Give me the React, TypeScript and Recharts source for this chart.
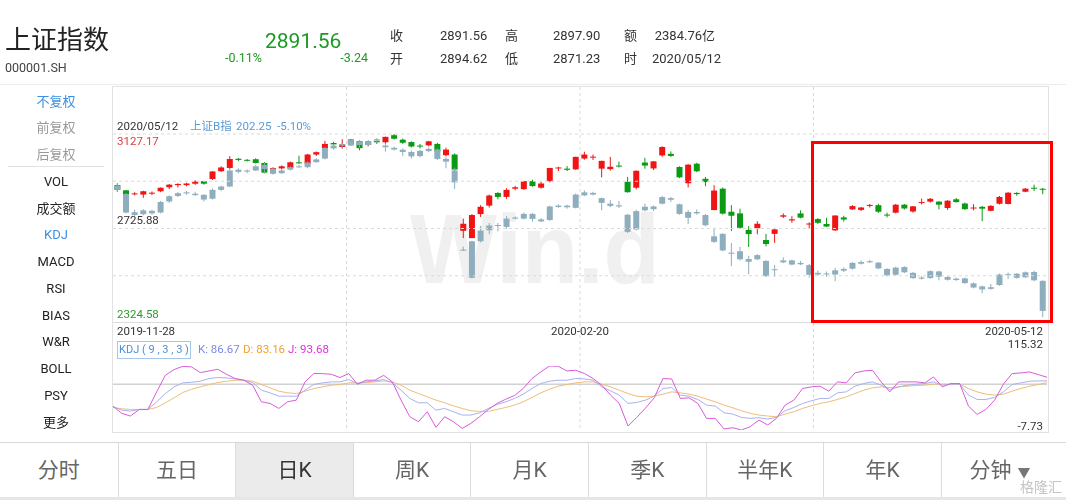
import React from 'react';
import { ComposedChart, Bar, Line, XAxis, YAxis, CartesianGrid, ReferenceLine } from 'recharts';

// 上证指数 日K (2019-11-28 ~ 2020-05-12)
const mainOpen = [2910, 2888, 2871, 2870, 2876, 2884, 2901, 2910, 2910, 2916, 2927, 2936, 2969, 2983, 3022, 3017.5, 3020, 3004, 2964, 2981, 2983, 3007, 3000, 3040, 3066, 3089, 3072, 3085, 3097, 3081, 3097, 3092, 3122, 3103, 3093, 3078, 3079, 3085, 3037, 3040, 2716, 2685, 2787, 2823, 2877, 2860, 2895, 2893, 2927, 2899, 2927, 2983, 2980, 2977, 3023, 3030, 2980, 2978, 2993, 2924, 2899, 3006, 2981, 3036, 3043, 2987, 2918, 3001, 2937, 2804, 2895, 2797, 2790, 2720, 2727, 2677, 2703, 2776, 2760, 2790, 2745, 2766, 2745, 2718, 2773, 2807, 2805, 2823, 2825, 2785, 2793, 2827, 2798, 2836, 2840, 2840, 2813, 2850, 2832, 2812, 2818, 2801, 2831, 2830, 2877, 2882, 2899, 2894.62];
const mainHigh = [2918, 2890, 2880, 2886, 2883, 2900, 2915, 2918, 2920, 2931, 2928, 2970, 2990, 3033, 3025, 3021, 3024, 3008, 2986, 2994, 3010, 3035, 3043, 3053, 3098, 3094, 3105, 3106, 3097, 3097, 3101, 3116, 3127, 3108, 3096, 3085, 3098, 3090, 3069, 3045, 2768, 2787, 2825, 2870, 2880, 2897, 2907, 2928, 2933, 2925, 2983, 2988, 2991, 3031, 3052, 3040, 3014, 3030, 3010, 2945, 2972, 3026, 3012, 3075, 3053, 2990, 3000, 3005, 2945, 2910, 2900, 2825, 2810, 2736, 2757, 2703, 2725, 2790, 2778, 2803, 2752, 2770, 2771, 2782, 2780, 2825, 2817, 2830, 2831, 2793, 2830, 2830, 2821, 2853, 2855, 2842, 2846, 2855, 2836, 2829, 2822, 2825, 2864, 2880, 2880, 2898, 2912, 2897.9];
const mainLow = [2881, 2868, 2866, 2856, 2868, 2880, 2893, 2900, 2905, 2911, 2912, 2932, 2965, 2978, 3012, 3010, 3002, 2960, 2960, 2978, 2980, 3000, 2995, 3034, 3060, 3074, 3065, 3081, 3058, 3075, 3085, 3084, 3104, 3085, 3070, 3066, 3075, 3050, 3032, 2968, 2685, 2685, 2775, 2815, 2850, 2852, 2888, 2890, 2903, 2895, 2922, 2970, 2970, 2975, 3018, 3017, 2943, 2972, 2985, 2878, 2892, 2980, 2974, 3030, 3030, 2940, 2900, 2965, 2905, 2804, 2785, 2715, 2725, 2647, 2701, 2650, 2665, 2770, 2750, 2769, 2725, 2745, 2732, 2715, 2755, 2805, 2800, 2815, 2792, 2773, 2790, 2806, 2793, 2828, 2836, 2807, 2805, 2836, 2805, 2803, 2757, 2799, 2828, 2828, 2865, 2880, 2885, 2871.23];
const mainClose = [2890, 2872, 2875, 2884, 2878, 2899, 2912, 2915, 2917, 2925, 2916, 2968, 2985, 3021, 3017, 3017, 3004, 2963, 2982, 2990, 3007, 3003, 3040, 3050, 3085, 3083, 3083, 3104, 3067, 3095, 3092, 3115, 3107, 3090, 3074, 3075, 3096, 3052, 3061, 2976, 2746, 2783, 2818, 2866, 2860, 2890, 2901, 2927, 2906, 2917, 2983, 2985, 2975, 3030, 3040, 3031, 3013, 2988, 2991, 2880, 2971, 2993, 3011, 3072, 3034, 2943, 2997, 2969, 2923, 2887, 2789, 2780, 2729, 2702, 2746, 2660, 2722, 2782, 2765, 2772, 2747, 2750, 2734, 2781, 2764, 2821, 2815, 2826, 2797, 2783, 2827, 2811, 2820, 2838, 2852, 2827, 2844, 2838, 2808, 2815, 2810, 2822, 2860, 2878, 2872, 2895, 2895, 2891.56];

// 上证B指 (叠加对比)
const bOpen = [247.5, 244.5, 236.9, 237.2, 238.4, 237.8, 241.8, 243.8, 244.7, 244.6, 244.2, 242.8, 246.0, 247.2, 252.5, 253.0, 253.0, 255.0, 253.6, 252.0, 253.3, 254.2, 254.2, 256.0, 257.3, 261.0, 262.0, 262.0, 263.5, 262.2, 263.8, 262.0, 261.2, 260.5, 259.7, 258.2, 260.0, 260.6, 257.2, 253.0, 224.0, 214.2, 227.4, 231.4, 233.3, 232.6, 235.6, 235.6, 237.3, 235.3, 235.1, 239.8, 240.3, 239.5, 244.0, 244.9, 243.0, 241.0, 240.0, 237.0, 231.7, 238.6, 239.0, 241.0, 243.0, 240.8, 235.9, 238.0, 236.9, 227.2, 230.1, 223.3, 223.8, 221.0, 220.9, 220.3, 217.0, 219.8, 220.5, 219.6, 218.8, 216.0, 215.5, 215.4, 216.8, 217.5, 219.3, 219.8, 219.7, 217.4, 215.3, 216.2, 216.0, 214.3, 214.1, 216.5, 214.5, 213.4, 214.0, 212.2, 211.1, 210.2, 211.6, 215.3, 215.7, 214.4, 216.3, 213.1];
const bHigh = [248.3, 244.8, 238.8, 239.0, 238.8, 242.0, 244.0, 245.2, 245.6, 245.3, 244.4, 246.5, 247.5, 253.8, 253.8, 253.4, 255.0, 255.7, 254.0, 253.6, 254.5, 255.0, 256.2, 257.5, 261.5, 262.5, 263.0, 264.3, 264.0, 264.0, 264.7, 262.8, 261.6, 261.0, 260.2, 260.5, 261.4, 261.0, 257.8, 254.0, 225.5, 227.6, 233.0, 234.0, 234.0, 236.5, 236.4, 237.8, 237.6, 235.8, 240.3, 240.8, 240.6, 244.7, 245.8, 245.3, 243.2, 242.3, 242.0, 237.3, 238.8, 241.0, 240.3, 243.8, 243.5, 241.0, 238.7, 238.9, 237.3, 232.3, 230.3, 226.8, 225.4, 222.2, 222.8, 220.6, 218.8, 221.6, 220.8, 220.3, 219.2, 216.8, 216.5, 217.8, 218.0, 219.9, 220.5, 220.7, 219.9, 217.7, 218.2, 218.4, 216.3, 214.8, 216.9, 216.8, 214.8, 214.3, 214.3, 212.5, 211.4, 212.0, 215.7, 216.1, 215.9, 216.5, 216.8, 213.3];
const bLow = [245.3, 237.5, 236.6, 236.8, 237.0, 237.5, 241.3, 243.4, 244.2, 243.8, 241.8, 242.5, 245.5, 247.0, 252.0, 252.0, 252.8, 252.0, 251.5, 251.8, 253.0, 253.9, 253.8, 255.8, 257.0, 260.5, 261.5, 261.8, 261.3, 262.0, 263.2, 259.8, 260.2, 258.3, 257.3, 257.8, 259.6, 256.8, 253.8, 246.3, 224.0, 214.0, 227.0, 230.0, 231.0, 232.0, 235.3, 235.3, 234.5, 234.3, 234.8, 239.5, 239.2, 239.3, 243.7, 244.0, 238.6, 239.7, 239.5, 230.4, 231.3, 238.2, 238.4, 240.7, 241.6, 237.0, 233.7, 237.0, 232.9, 226.8, 223.8, 218.4, 220.5, 215.5, 220.6, 214.5, 214.6, 219.5, 218.7, 218.8, 214.3, 215.0, 214.6, 213.0, 216.3, 217.2, 219.0, 219.6, 217.3, 214.7, 215.0, 215.9, 213.8, 213.6, 213.9, 213.3, 213.2, 213.1, 212.0, 210.4, 208.6, 209.9, 211.3, 213.8, 213.9, 214.1, 213.0, 200.0];
const bClose = [246.0, 237.8, 237.9, 238.6, 237.5, 241.6, 243.7, 244.8, 245.1, 244.1, 242.5, 246.0, 247.2, 253.0, 253.3, 252.6, 254.5, 253.5, 251.8, 253.0, 254.2, 254.5, 255.9, 257.0, 261.1, 262.0, 262.5, 264.0, 262.2, 263.6, 264.3, 261.4, 260.6, 259.7, 258.1, 260.1, 260.8, 257.2, 256.2, 248.7, 224.4, 227.4, 231.3, 233.1, 233.0, 235.6, 236.0, 237.3, 235.5, 234.6, 240.0, 240.3, 239.7, 244.3, 245.1, 244.3, 241.3, 240.2, 240.4, 230.8, 238.3, 239.9, 240.0, 243.4, 242.4, 237.3, 238.0, 237.5, 233.2, 229.2, 224.1, 222.9, 220.9, 220.0, 222.4, 214.8, 217.3, 220.5, 219.0, 219.1, 215.3, 215.4, 215.8, 216.9, 217.4, 219.6, 219.9, 220.2, 217.6, 215.1, 217.9, 218.1, 214.1, 213.9, 216.6, 214.6, 213.5, 213.9, 212.3, 210.7, 210.0, 210.8, 215.4, 215.5, 214.2, 216.2, 213.3, 202.25];

// KDJ(9,3,3)
const kLine = [36.9, 30.5, 28.6, 31.8, 31.8, 46.5, 62.4, 75.2, 82.9, 84.1, 86.0, 91.2, 93.1, 92.4, 90.5, 88.0, 83.5, 68.8, 63.7, 57.3, 57.3, 57.3, 68.8, 79.7, 82.9, 84.8, 84.8, 89.2, 81.6, 84.8, 86.7, 89.2, 82.9, 68.8, 52.9, 44.6, 44.6, 30.5, 33.7, 27.4, 21.0, 21.0, 25.4, 33.7, 41.4, 46.5, 52.9, 61.2, 72.0, 81.6, 86.0, 88.0, 88.0, 91.2, 90.5, 88.0, 75.2, 67.5, 59.3, 43.3, 45.2, 49.7, 57.3, 72.0, 73.9, 59.3, 57.3, 51.0, 40.1, 38.2, 25.4, 22.9, 16.5, 14.6, 15.9, 13.3, 16.5, 29.3, 35.6, 43.3, 48.4, 52.9, 52.9, 63.7, 65.6, 76.5, 81.6, 84.8, 78.4, 70.1, 75.2, 78.4, 80.3, 81.6, 84.8, 78.4, 80.3, 80.3, 59.3, 51.0, 51.0, 54.8, 65.6, 79.7, 82.9, 86.0, 86.7, 86.67];
const dLine = [35.6, 33.1, 31.8, 31.8, 31.8, 35.6, 44.6, 54.1, 64.4, 70.7, 75.2, 79.7, 83.5, 86.0, 88.0, 88.0, 86.0, 79.7, 73.3, 66.9, 63.7, 62.4, 66.9, 72.0, 75.2, 78.4, 79.7, 82.9, 82.9, 83.5, 84.8, 86.7, 84.8, 78.4, 68.8, 62.4, 56.1, 49.7, 44.6, 38.8, 33.7, 29.3, 28.0, 28.0, 31.8, 35.6, 40.1, 46.5, 54.8, 63.7, 70.7, 76.5, 79.7, 82.9, 84.8, 84.8, 80.3, 75.2, 68.8, 62.4, 57.3, 56.1, 57.3, 61.2, 65.6, 63.7, 61.2, 57.3, 51.6, 46.5, 40.1, 35.0, 29.3, 24.2, 21.0, 19.1, 17.8, 22.9, 27.4, 33.7, 38.8, 43.3, 46.5, 51.0, 56.1, 62.4, 68.8, 73.3, 75.2, 73.9, 75.2, 76.5, 77.8, 78.4, 80.3, 80.3, 80.3, 80.3, 72.0, 65.6, 61.2, 59.3, 61.2, 66.9, 72.0, 76.5, 79.7, 83.16];
const jLine = [38.2, 24.2, 19.1, 31.8, 31.8, 65.6, 97.5, 108.4, 114.8, 113.5, 102.6, 105.8, 109.0, 99.4, 91.2, 88.0, 78.4, 46.5, 43.3, 33.7, 46.5, 49.7, 84.8, 100.7, 100.7, 99.4, 93.1, 100.7, 80.3, 88.0, 88.0, 97.5, 84.8, 49.7, 17.8, 8.2, 27.4, -2.6, 17.8, 8.2, -4.6, 5.0, 17.8, 31.8, 43.3, 51.6, 58.6, 72.0, 91.2, 103.9, 115.32, 114.8, 105.8, 107.1, 101.0, 91.2, 78.4, 59.3, 43.3, -0.1, 16.5, 34.4, 54.1, 91.2, 90.5, 52.9, 54.1, 43.3, 14.6, 14.6, -5.8, -3.3, -7.73, -1.4, 11.4, 1.8, 14.6, 40.1, 49.7, 72.0, 75.2, 76.5, 66.9, 84.8, 82.9, 102.0, 105.8, 107.1, 84.8, 65.6, 84.8, 84.8, 84.8, 82.9, 94.3, 75.2, 81.6, 81.6, 38.2, 22.2, 31.8, 49.7, 80.3, 100.7, 102.0, 103.9, 98.8, 93.68];

const priceTop = 3127.17;
const priceBottom = 2324.58;
const kdjMax = 115.32;
const kdjMin = -7.73;
const kdjLevels = [80];
const dateTicks = ['2019-11-28', '2020-02-20', '2020-05-12'];
const menuItems = ['不复权', '前复权', '后复权', 'VOL', '成交额', 'KDJ', 'MACD', 'RSI', 'BIAS', 'W&R', 'BOLL', 'PSY', '更多'];
const tabLabels = ['分时', '五日', '日K', '周K', '月K', '季K', '半年K', '年K', '分钟'];

const UP = '#f01414';
const DOWN = '#0a9a14';
const B_COLOR = '#8eaebd';
const FONT = "Roboto, 'Noto Sans CJK SC', sans-serif";

// B指按首日收盘对齐到主图刻度
const bScale = mainClose[0] / bClose[0];

const chartData = mainOpen.map((o, i) => ({
  i,
  o,
  h: mainHigh[i],
  l: mainLow[i],
  c: mainClose[i],
  range: [mainLow[i], mainHigh[i]],
  bo: bOpen[i] * bScale,
  bh: bHigh[i] * bScale,
  bl: bLow[i] * bScale,
  bc: bClose[i] * bScale,
  bRange: [bLow[i] * bScale, bHigh[i] * bScale],
  k: kLine[i],
  d: dLine[i],
  j: jLine[i],
}));

const gridStep = (priceTop - priceBottom) / 4;
const priceGrid = [0, 1, 2, 3].map(n => priceTop - n * gridStep);

const quarterLines = (p: any) => {
  const left = p?.offset?.left ?? 0;
  const w = p?.offset?.width ?? p?.width ?? 0;
  return [1, 2, 3].map(q => left + (w * q) / 4);
};

const makeCandle = (kind: 'main' | 'b') => (props: any) => {
  const { x, y, width, height, payload } = props;
  if (x == null || !payload) return <g />;
  const o = kind === 'main' ? payload.o : payload.bo;
  const c = kind === 'main' ? payload.c : payload.bc;
  const hi = kind === 'main' ? payload.h : payload.bh;
  const lo = kind === 'main' ? payload.l : payload.bl;
  const top = Math.min(y, y + height);
  const span = Math.abs(height);
  const per = hi > lo ? span / (hi - lo) : 0;
  const yOf = (v: number) => top + (hi - v) * per;
  const cx = x + width / 2;
  const color = kind === 'b' ? B_COLOR : c >= o ? UP : DOWN;
  const bodyTop = yOf(Math.max(o, c));
  const bodyH = Math.max(1, Math.abs(yOf(o) - yOf(c)));
  const bw = 6;
  return (
    <g style={kind === 'b' ? { mixBlendMode: 'multiply' } : undefined}>
      <line x1={cx} x2={cx} y1={top} y2={top + span} stroke={color} strokeWidth={1} />
      <rect x={cx - bw / 2} y={bodyTop} width={bw} height={bodyH} fill={color} />
    </g>
  );
};

const T = ({ x, y, size = 13, color = '#333', right, center, children, weight }: any) => {
  const style: any = {
    position: 'absolute',
    top: y - size / 2,
    fontSize: size,
    lineHeight: `${size}px`,
    color,
    whiteSpace: 'nowrap',
    fontWeight: weight,
  };
  if (right) style.right = 1066 - x;
  else if (center) { style.left = x; style.transform = 'translateX(-50%)'; }
  else style.left = x;
  return <div style={style}>{children}</div>;
};

export default function App() {
  return (
    <div style={{ position: 'absolute', left: 0, top: 0, width: 1066, height: 500, background: '#fff', fontFamily: FONT, overflow: 'hidden' }}>
      {/* 头部行情 */}
      <T x={5} y={40} size={26} color="#222">上证指数</T>
      <T x={5} y={68} size={12.5} color="#444">000001.SH</T>
      <T x={265} y={41} size={21} color="#1d9a24">2891.56</T>
      <T x={225} y={58} size={12.5} color="#1d9a24">-0.11%</T>
      <T x={368} y={58} size={12.5} color="#1d9a24" right>-3.24</T>
      <T x={390} y={35} size={13}>收</T>
      <T x={440} y={35} size={13}>2891.56</T>
      <T x={505} y={35} size={13}>高</T>
      <T x={553} y={35} size={13}>2897.90</T>
      <T x={624} y={35} size={13}>额</T>
      <T x={715} y={35} size={13} right>2384.76亿</T>
      <T x={390} y={58} size={13}>开</T>
      <T x={440} y={58} size={13}>2894.62</T>
      <T x={505} y={58} size={13}>低</T>
      <T x={553} y={58} size={13}>2871.23</T>
      <T x={624} y={58} size={13}>时</T>
      <T x={652} y={58} size={13}>2020/05/12</T>
      <div style={{ position: 'absolute', left: 0, top: 84, width: 1066, height: 1, background: '#ececec' }} />

      {/* 左侧菜单 */}
      {menuItems.map((m, n) => (
        <T key={m} x={56} y={101 + n * 26.75} size={13} center
          color={n === 0 || m === 'KDJ' ? '#3d8fe0' : n < 3 ? '#999' : '#222'}>{m}</T>
      ))}
      <div style={{ position: 'absolute', left: 8, top: 166, width: 96, height: 1, background: '#e2e2e2' }} />

      {/* 面板边框与水印 */}
      <div style={{ position: 'absolute', left: 112, top: 86, width: 935, height: 345, border: '1px solid #e2e2e2' }} />
      <div style={{ position: 'absolute', left: 113, top: 322, width: 934, height: 1, background: '#dcdcdc' }} />
      <div style={{ position: 'absolute', left: 410, top: 200, fontSize: 98, lineHeight: '98px', fontWeight: 'bold', color: '#f0f0f0', fontFamily: "'Liberation Sans', Arial, sans-serif", transform: 'scaleX(0.94)', transformOrigin: 'left top' }}>Win.d</div>

      {/* 主图 K线 */}
      <div style={{ position: 'absolute', left: 113, top: 87 }}>
        <ComposedChart width={934} height={236} data={chartData} margin={{ top: 0, right: 0, bottom: 0, left: 0 }}>
          <XAxis dataKey="i" hide />
          <XAxis xAxisId="b" dataKey="i" hide />
          <YAxis hide domain={[priceBottom, priceTop]} padding={{ top: 47, bottom: 0 }} allowDataOverflow />
          <CartesianGrid horizontal={false} strokeDasharray="3 3" stroke="#dadada" verticalCoordinatesGenerator={quarterLines} />
          {priceGrid.map(v => (
            <ReferenceLine key={v} y={v} stroke="#dadada" strokeDasharray="3 3" />
          ))}
          <Bar dataKey="range" shape={makeCandle('main')} isAnimationActive={false} />
          <Bar xAxisId="b" dataKey="bRange" shape={makeCandle('b')} isAnimationActive={false} />
        </ComposedChart>
      </div>
      <T x={117} y={127} size={11.5} color="#333">2020/05/12</T>
      <T x={190} y={127} size={11.5} color="#5b9bd5">上证B指</T>
      <T x={236} y={127} size={11.5} color="#5b9bd5">202.25</T>
      <T x={277} y={127} size={11.5} color="#5b9bd5">-5.10%</T>
      <T x={117} y={142} size={11.5} color="#e03c3c">3127.17</T>
      <T x={117} y={221} size={11.5} color="#333">2725.88</T>
      <T x={117} y={315} size={11.5} color="#2e9a2e">2324.58</T>

      {/* KDJ 副图 */}
      <div style={{ position: 'absolute', left: 113, top: 323 }}>
        <ComposedChart width={934} height={108} data={chartData} margin={{ top: 0, right: 0, bottom: 0, left: 0 }}>
          <XAxis dataKey="i" hide />
          <YAxis hide domain={[kdjMin, kdjMax]} padding={{ top: 43, bottom: 1 }} allowDataOverflow />
          <CartesianGrid horizontal={false} strokeDasharray="3 3" stroke="#dadada" verticalCoordinatesGenerator={quarterLines} />
          {kdjLevels.map(v => (
            <ReferenceLine key={v} y={v} stroke="#d2d2d2" strokeWidth={1.5} />
          ))}
          <Line dataKey="d" stroke="#efbd7a" strokeWidth={1} dot={false} isAnimationActive={false} />
          <Line dataKey="k" stroke="#a9b2ee" strokeWidth={1} dot={false} isAnimationActive={false} />
          <Line dataKey="j" stroke="#d95cd9" strokeWidth={1} dot={false} isAnimationActive={false} />
        </ComposedChart>
      </div>
      <T x={117} y={332} size={11.5}>{dateTicks[0]}</T>
      <T x={580} y={332} size={11.5} center>{dateTicks[1]}</T>
      <T x={1043} y={332} size={11.5} right>{dateTicks[2]}</T>
      <T x={1043} y={345} size={11.5} right>{kdjMax.toFixed(2)}</T>
      <T x={1043} y={427} size={11.5} right>{kdjMin.toFixed(2)}</T>
      <div style={{ position: 'absolute', left: 117, top: 341, width: 72, height: 16, border: '1px solid #a6c8e6', fontSize: 11, lineHeight: '16px', color: '#4a90d9', textAlign: 'center', whiteSpace: 'nowrap' }}>KDJ ( 9 , 3 , 3 )</div>
      <T x={198} y={350} size={11.5} color="#7d8ae6">K: {kLine[kLine.length - 1].toFixed(2)}</T>
      <T x={243} y={350} size={11.5} color="#f0a030">D: {dLine[dLine.length - 1].toFixed(2)}</T>
      <T x={288} y={350} size={11.5} color="#e030e0">J: {jLine[jLine.length - 1].toFixed(2)}</T>

      {/* 标注框 */}
      <div style={{ position: 'absolute', left: 811, top: 141, width: 242, height: 182, border: '3px solid #ff0000', boxSizing: 'border-box' }} />

      {/* 底部周期切换 */}
      <div style={{ position: 'absolute', left: 0, top: 442, width: 1066, height: 1, background: '#d8d8d8' }} />
      <div style={{ position: 'absolute', left: 0, top: 497, width: 1066, height: 3, background: '#e6e6e6' }} />
      {tabLabels.map((t, n) => (
        <div key={t} style={{
          position: 'absolute', left: n * 117.6, top: 443, width: 117.6, height: 54,
          background: t === '日K' ? '#ebebeb' : '#fff',
          borderLeft: n > 0 ? '1px solid #dcdcdc' : 'none', boxSizing: 'border-box',
          fontSize: 21, lineHeight: '54px', textAlign: 'center', color: t === '日K' ? '#333' : '#666',
        }}>
          {t}{n === tabLabels.length - 1 ? <span style={{ fontSize: 13, color: '#777', marginLeft: 6 }}>▼</span> : null}
        </div>
      ))}
      <T x={1062} y={487} size={14} color="#c4c4c4" right>格隆汇</T>
    </div>
  );
}
